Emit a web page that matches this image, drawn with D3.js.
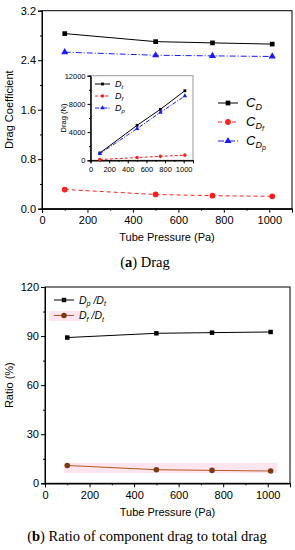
<!DOCTYPE html>
<html><head><meta charset="utf-8">
<script src="https://cdn.jsdelivr.net/npm/d3@7"></script>
<style>
body { margin: 0; background: #fff; }
svg { display: block; font-family: Arial, "Liberation Sans", sans-serif; }
</style>
</head><body><script>

// tube pressure (Pa)
var pressure = [100, 500, 750, 1013];

// (a) drag coefficients
var cD  = [2.83, 2.70, 2.68, 2.66];
var cDf = [0.31, 0.23, 0.21, 0.20];
var cDp = [2.53, 2.48, 2.47, 2.46];

// (a) inset drag (N)
var dragT = [1030, 4960, 7230, 9870];
var dragF = [110, 390, 560, 730];
var dragP = [930, 4500, 6800, 9120];

// (b) ratios (%)
var ratioP = [89.1, 91.7, 92.1, 92.5];
var ratioF = [10.9, 8.3, 7.9, 7.5];

var xTicks = [0, 200, 400, 600, 800, 1000];
var xMinor = [100, 300, 500, 700, 900, 1100];
var cTicks = [0, 0.8, 1.6, 2.4, 3.2];
var cMinor = [0.4, 1.2, 2.0, 2.8];
var nTicks = [0, 4000, 8000, 12000];
var nMinor = [2000, 6000, 10000];
var rTicks = [0, 30, 60, 90, 120];
var rMinor = [15, 45, 75, 105];

var serif = "'Liberation Serif', 'DejaVu Serif', serif";

var svg = d3.select("body").append("svg")
    .attr("width", 295)
    .attr("height", 550);

svg.append("rect").attr("width", 295).attr("height", 550).attr("fill", "#fff");

function frame(g, x, y, o) {
    g.append("rect")
        .attr("x", x.range()[0]).attr("y", y.range()[1])
        .attr("width", x.range()[1] - x.range()[0])
        .attr("height", y.range()[0] - y.range()[1])
        .attr("fill", "none").attr("stroke", o.edge || "#000").attr("stroke-width", 1);

    var xa = g.append("g")
        .attr("transform", "translate(0," + y.range()[0] + ")")
        .call(d3.axisBottom(x).tickValues(o.xt).tickSize(o.tk).tickFormat(d3.format("d")));
    g.append("g")
        .attr("transform", "translate(0," + y.range()[0] + ")")
        .call(d3.axisBottom(x).tickValues(o.xm).tickSize(o.tk / 2).tickFormat(""));
    var ya = g.append("g")
        .attr("transform", "translate(" + x.range()[0] + ",0)")
        .call(d3.axisLeft(y).tickValues(o.yt).tickSize(o.tk).tickFormat(o.yf));
    g.append("g")
        .attr("transform", "translate(" + x.range()[0] + ",0)")
        .call(d3.axisLeft(y).tickValues(o.ym).tickSize(o.tk / 2).tickFormat(""));

    g.selectAll(".domain").attr("stroke", "#000");
    g.selectAll(".tick line").attr("stroke", "#000");
    xa.selectAll("text").style("font-family", null).attr("font-family", null)
        .attr("font-size", o.fs).attr("fill", "#000").attr("dy", "0.75em").attr("y", o.tk + 3);
    ya.selectAll("text").attr("font-size", o.fs).attr("fill", "#000").attr("x", -o.tk - 2);
    g.selectAll(".tick").attr("font-family", null).attr("font-size", null);
    g.selectAll("g").attr("font-family", null).attr("font-size", null);
}

function series(g, x, y, vals, o) {
    var pts = pressure.map(function (p, i) { return [x(p), y(vals[i])]; });
    g.append("path")
        .attr("d", d3.line()(pts))
        .attr("fill", "none")
        .attr("stroke", o.color)
        .attr("stroke-width", o.sw || 1)
        .attr("stroke-dasharray", o.dash || null);
    marks(g, pts, o);
}

function marks(g, pts, o) {
    var sym = d3.symbol().type(o.shape).size(o.size);
    g.selectAll(null).data(pts).enter().append("path")
        .attr("d", sym)
        .attr("transform", function (d) { return "translate(" + d[0] + "," + d[1] + ")"; })
        .attr("fill", o.fill || o.color);
}

// subscripted label: parts = [[text, size, dy]]
function label(g, x, y, parts, italic) {
    var t = g.append("text").attr("x", x).attr("y", y)
        .attr("font-style", italic ? "italic" : null).attr("fill", "#000");
    parts.forEach(function (p) {
        t.append("tspan").attr("font-size", p[1]).attr("dy", p[2]).text(p[0]);
    });
    return t;
}

// ---------- panel (a) ----------
var ga = svg.append("g");
var xa = d3.scaleLinear().domain([0, 1100]).range([42, 292]);
var ya = d3.scaleLinear().domain([0, 3.2]).range([208.7, 10.7]);

frame(ga, xa, ya, { xt: xTicks, xm: xMinor, yt: cTicks, ym: cMinor, tk: 4, fs: 11, yf: d3.format(".1f") });

series(ga, xa, ya, cD, { color: "#000", shape: d3.symbolSquare, size: 22 });
series(ga, xa, ya, cDf, { color: "#ff2020", shape: d3.symbolCircle, size: 26, dash: "4,3" });
series(ga, xa, ya, cDp, { color: "#1a1aff", shape: d3.symbolTriangle, size: 22, dash: "6,2,1,2" });

ga.append("text")
    .attr("transform", "translate(13," + ya(1.6) + ") rotate(-90)")
    .attr("text-anchor", "middle").attr("font-size", 11).text("Drag Coefficient");
ga.append("text")
    .attr("x", xa(550)).attr("y", 241)
    .attr("text-anchor", "middle").attr("font-size", 11).text("Tube Pressure (Pa)");

// main legend
var legA = [
    { y: 103, color: "#000", shape: d3.symbolSquare, size: 22, dash: null, sub2: "" },
    { y: 122, color: "#ff2020", shape: d3.symbolCircle, size: 26, dash: "4,3", sub2: "f" },
    { y: 141, color: "#1a1aff", shape: d3.symbolTriangle, size: 22, dash: "6,2,1,2", sub2: "p" }
];
legA.forEach(function (d) {
    ga.append("line").attr("x1", 218).attr("x2", 238).attr("y1", d.y).attr("y2", d.y)
        .attr("stroke", d.color).attr("stroke-dasharray", d.dash);
    marks(ga, [[228, d.y]], d);
    var parts = [["C", 13, 0], ["D", 9, 3]];
    if (d.sub2) parts.push([d.sub2, 7, 2]);
    label(ga, 246, d.y + 4, parts, true);
});

// inset
var gi = svg.append("g");
var xi = d3.scaleLinear().domain([0, 1100]).range([90.5, 193]);
var yi = d3.scaleLinear().domain([0, 12000]).range([160.3, 75.7]);
frame(gi, xi, yi, { xt: xTicks, xm: xMinor, yt: nTicks, ym: nMinor, tk: 3, fs: 7.5, yf: d3.format("d"), edge: "#999" });

series(gi, xi, yi, dragT, { color: "#000", shape: d3.symbolSquare, size: 8 });
series(gi, xi, yi, dragF, { color: "#ff2020", shape: d3.symbolCircle, size: 10, dash: "3,2" });
series(gi, xi, yi, dragP, { color: "#1a1aff", shape: d3.symbolTriangle, size: 9, dash: "4,1.5,1,1.5" });

gi.append("text")
    .attr("transform", "translate(66," + yi(6000) + ") rotate(-90)")
    .attr("text-anchor", "middle").attr("font-size", 7.5).text("Drag (N)");

var legI = [
    { y: 84, color: "#000", shape: d3.symbolSquare, size: 8, dash: null, sub: "t" },
    { y: 96, color: "#ff2020", shape: d3.symbolCircle, size: 10, dash: "3,2", sub: "f" },
    { y: 108, color: "#1a1aff", shape: d3.symbolTriangle, size: 9, dash: "4,1.5,1,1.5", sub: "p" }
];
legI.forEach(function (d) {
    gi.append("line").attr("x1", 95).attr("x2", 110).attr("y1", d.y).attr("y2", d.y)
        .attr("stroke", d.color).attr("stroke-dasharray", d.dash);
    marks(gi, [[102.5, d.y]], d);
    label(gi, 115, d.y + 3, [["D", 9, 0], [d.sub, 6, 2]], true);
});

// caption (a)
var capA = svg.append("text").attr("x", 145).attr("y", 267).attr("text-anchor", "middle")
    .style("font-family", serif).attr("font-size", 14.5);
capA.append("tspan").text("(");
capA.append("tspan").attr("font-weight", "bold").text("a");
capA.append("tspan").text(") Drag");

// ---------- panel (b) ----------
var gb = svg.append("g");
var xb = d3.scaleLinear().domain([0, 1100]).range([45, 290]);
var yb = d3.scaleLinear().domain([0, 120]).range([483.3, 287]);

frame(gb, xb, yb, { xt: xTicks, xm: xMinor, yt: rTicks, ym: rMinor, tk: 4, fs: 11, yf: d3.format("d") });

// light band behind the ratio line
gb.append("rect")
    .attr("x", xb(85)).attr("width", xb(1042) - xb(85))
    .attr("y", yb(12.5)).attr("height", yb(6.3) - yb(12.5))
    .attr("fill", "#fde4ef");

series(gb, xb, yb, ratioP, { color: "#000", shape: d3.symbolSquare, size: 20 });
series(gb, xb, yb, ratioF, { color: "#b35a1f", fill: "#7a3a0c", shape: d3.symbolCircle, size: 24 });

gb.append("text")
    .attr("transform", "translate(13," + yb(60) + ") rotate(-90)")
    .attr("text-anchor", "middle").attr("font-size", 11).text("Ratio (%)");
gb.append("text")
    .attr("x", xb(550)).attr("y", 516)
    .attr("text-anchor", "middle").attr("font-size", 11).text("Tube Pressure (Pa)");

var legB = [
    { y: 300, color: "#000", fill: "#000", shape: d3.symbolSquare, size: 20, a: "p" },
    { y: 315.5, color: "#b35a1f", fill: "#7a3a0c", shape: d3.symbolCircle, size: 24, a: "f" }
];
gb.append("rect").attr("x", 49).attr("y", 311).attr("width", 31).attr("height", 10).attr("fill", "#fde4ef");
legB.forEach(function (d) {
    gb.append("line").attr("x1", 54).attr("x2", 74).attr("y1", d.y).attr("y2", d.y).attr("stroke", d.color);
    marks(gb, [[64, d.y]], d);
    label(gb, 79, d.y + 3.5, [["D", 10.5, 0], [d.a, 7, 2.5], [" /D", 10.5, -2.5], ["t", 7, 2.5]], true);
});

// caption (b)
var capB = svg.append("text").attr("x", 147).attr("y", 541).attr("text-anchor", "middle")
    .style("font-family", serif).attr("font-size", 14.5);
capB.append("tspan").text("(");
capB.append("tspan").attr("font-weight", "bold").text("b");
capB.append("tspan").text(") Ratio of component drag to total drag");

</script></body></html>
